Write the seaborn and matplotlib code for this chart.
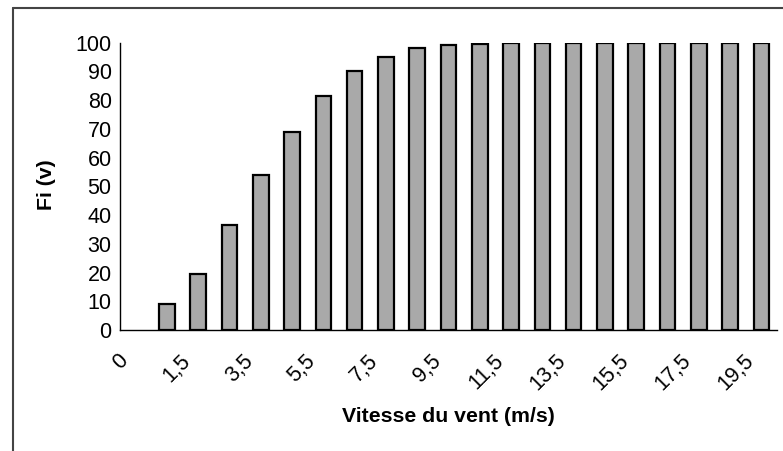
import matplotlib
matplotlib.use("Agg")
import matplotlib.pyplot as plt
import matplotlib.transforms as mtransforms
from matplotlib.lines import Line2D
import seaborn as sns
import pandas as pd

# Data
vitesse = ["0", "0,5", "1,5", "2,5", "3,5", "4,5", "5,5", "6,5", "7,5", "8,5", "9,5",
           "10,5", "11,5", "12,5", "13,5", "14,5", "15,5", "16,5", "17,5", "18,5", "19,5"]
fi = [0, 9.2, 19.5, 36.5, 54, 69, 81.5, 90, 95, 98, 99.2,
      99.7, 100, 100, 100, 100, 100, 100, 100, 100, 100]
yticks = [0, 10, 20, 30, 40, 50, 60, 70, 80, 90, 100]

sns.set_theme(style="white")
plt.rcParams["font.family"] = ["Liberation Sans", "DejaVu Sans"]

df = pd.DataFrame({"v": vitesse, "fi": fi})

fig = plt.figure(figsize=(7.83, 4.51), dpi=100)
ax = fig.add_axes([120 / 783, 1 - 330 / 451, 657 / 783, (330 - 42.7) / 451])

sns.barplot(data=df, x="v", y="fi", order=vitesse, color="#a9a9a9", saturation=1,
            edgecolor="black", linewidth=1.6, width=0.5, ax=ax)
for p in ax.patches:
    if p.get_height() == 0:
        p.set_visible(False)

ax.set_xlim(-0.5, len(vitesse) - 0.5)
ax.set_ylim(0, 100)
ax.set_yticks(yticks)
ax.set_yticklabels([str(t) for t in yticks], fontsize=15.5)

# x: labels every second category, ticks at category boundaries
ax.set_xticks(range(0, len(vitesse), 2))
ax.set_xticklabels(vitesse[::2], fontsize=15.5, rotation=45, ha="right", va="center",
                   rotation_mode="anchor")
ax.set_xticks([i - 0.5 for i in range(len(vitesse) + 1)], minor=True)
ax.tick_params(axis="x", which="major", length=0, pad=0)
ax.tick_params(axis="x", which="minor", length=5, width=1, color="black", direction="out")
ax.tick_params(axis="y", which="major", length=5, width=1, color="black", direction="out", pad=1)
ax.tick_params(axis="both", colors="black", labelcolor="black")

offset = mtransforms.ScaledTranslation(-11 / 100, -28 / 100, fig.dpi_scale_trans)
for lab in ax.get_xticklabels():
    lab.set_transform(lab.get_transform() + offset)

for s in ["top", "right"]:
    ax.spines[s].set_visible(False)
for s in ["left", "bottom"]:
    ax.spines[s].set_color("black")
    ax.spines[s].set_linewidth(1)

ax.set_xlabel("")
ax.set_ylabel("")
fig.text(448 / 783, 1 - 417 / 451, "Vitesse du vent (m/s)", fontsize=15.3, fontweight="bold",
         ha="center", va="center", color="black")
fig.text(46 / 783, 1 - 185 / 451, "Fi (v)", fontsize=15.3, fontweight="bold",
         rotation=90, ha="center", va="center", color="black")

# outer frame (left and top edges visible)
fig.add_artist(Line2D([13 / 783, 13 / 783], [0, 1 - 8 / 451], transform=fig.transFigure,
                      color="#444444", lw=1.5))
fig.add_artist(Line2D([13 / 783, 1], [1 - 8 / 451, 1 - 8 / 451], transform=fig.transFigure,
                      color="#444444", lw=1.5))

fig.savefig("out.png", dpi=100)
